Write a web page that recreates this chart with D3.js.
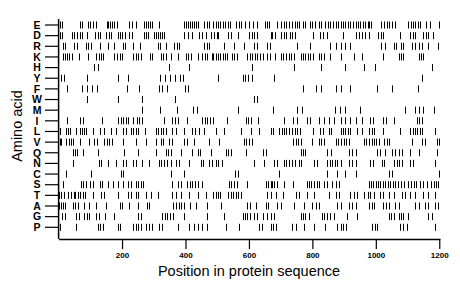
<!DOCTYPE html>
<html lang="en">
<head>
<meta charset="UTF-8">
<title>Amino acid positions</title>
<script src="https://d3js.org/d3.v7.min.js"></script>
<style>
    body { margin: 0; padding: 0; background: #fff; }
    svg { display: block; }
    text { font-family: "Liberation Sans", Arial, sans-serif; fill: #000; }
</style>
</head>
<body>
<svg id="chart" width="460" height="299"></svg>
<script>
// residues, top to bottom
const acids = ["E","D","R","K","H","Y","F","W","M","I","L","V","Q","N","C","S","T","A","G","P"];
const seqLength = 1202;
const xTicks = [200, 400, 600, 800, 1000, 1200];

// positions of each residue in the sequence
const posE = [4,12,67,75,93,100,109,118,152,157,162,168,176,183,222,230,243,270,276,282,288,295,317,396,402,408,414,421,427,433,440,458,467,474,488,496,503,510,518,526,534,541,560,568,576,587,600,612,627,652,657,662,689,700,709,718,726,736,744,750,757,771,778,792,799,807,820,828,841,849,857,865,873,880,889,897,904,912,920,928,936,943,951,960,967,975,978,986,1017,1026,1034,1043,1052,1060,1102,1110,1118,1125,1133,1140,1159,1171,1198];
const posD = [4,12,42,50,58,66,74,89,116,124,131,150,158,165,186,193,201,210,222,232,270,276,282,301,307,314,320,326,333,396,408,419,443,453,464,480,490,498,504,535,543,567,601,609,616,627,669,674,682,700,711,718,729,736,746,803,825,834,847,897,936,946,957,966,978,1007,1015,1023,1076,1108,1116,1125,1150,1157,1166,1181];
const posR = [13,21,50,57,87,94,101,129,155,176,202,210,236,257,312,320,338,364,372,380,458,467,474,522,553,585,616,625,658,666,750,794,857,873,889,904,920,1017,1030,1056,1063,1080,1087,1114,1124,1135,1145,1166,1196];
const posK = [15,21,28,34,42,63,92,118,126,134,141,176,183,192,200,234,243,251,259,288,293,322,330,338,354,375,401,408,417,438,453,461,469,482,488,496,503,510,517,525,532,546,553,561,595,603,611,619,627,634,643,658,666,682,700,708,716,727,734,742,763,771,778,786,794,802,820,828,836,857,889,931,957,1024,1072,1079,1086,1135,1142,1149];
const posH = [113,123,348,411,611,742,826,904,962,998,1177];
const posY = [8,18,90,188,220,320,336,352,367,383,393,503,580,588,598,609,679,1147];
const posF = [26,73,89,104,120,215,254,317,327,341,399,409,772,810,826,873,889,919,1003,1050,1134];
const posW = [89,188,262,366,616,625];
const posM = [262,320,373,425,436,567,677,751,767,872,888,904,951,1093,1124,1135,1150,1182];
const posI = [26,68,78,136,188,196,204,213,220,236,246,254,264,333,359,366,375,406,453,461,469,477,488,532,590,598,606,630,711,739,750,783,794,820,836,852,868,889,904,920,936,957,982,990,1024,1032,1056,1129,1137,1145];
const posL = [5,24,30,36,55,66,73,80,87,108,129,144,165,181,202,212,228,236,243,251,272,306,314,322,329,338,359,369,396,422,429,443,458,496,522,574,606,632,669,676,695,703,711,718,727,736,744,752,760,802,825,833,852,859,889,896,904,912,920,941,957,980,988,995,1024,1077,1108,1116,1124,1131,1140,1147,1187];
const posV = [3,9,24,32,38,45,66,97,113,120,144,152,160,168,202,243,275,306,322,330,348,356,396,404,427,474,506,585,592,601,609,739,747,754,763,799,820,828,836,873,880,889,899,907,915,962,970,980,988,995,1002,1010,1027,1035,1042,1114,1145,1156,1192,1199];
const posQ = [45,51,57,76,123,207,249,306,338,345,354,385,422,438,446,480,527,535,543,590,643,653,763,771,778,847,859,915,925,936,1003,1014,1030,1051,1061,1072,1082,1108,1135,1192];
const posN = [45,126,134,155,181,202,212,234,243,264,285,317,324,333,343,354,369,380,411,448,456,474,485,496,504,514,616,648,679,687,711,718,727,736,744,757,765,805,815,847,855,862,870,878,889,915,925,936,982,990,1019,1027,1056,1066,1074,1082,1108,1116,1187];
const posC = [24,102,197,204,354,396,556,567,695,847,878,904,936,1040,1051,1198];
const posS = [13,71,78,87,99,108,129,137,155,171,186,202,218,228,243,251,259,267,359,375,387,406,414,422,429,438,453,538,545,552,561,595,653,660,668,674,680,690,711,739,782,789,796,804,813,820,836,847,862,873,883,978,985,992,1000,1007,1014,1022,1030,1038,1046,1054,1062,1070,1080,1090,1100,1110,1120,1128,1138,1148,1160,1175,1182,1190,1197];
const posT = [2,9,18,29,39,47,53,60,68,76,84,108,134,144,186,218,228,243,251,275,291,314,359,369,385,411,438,464,488,496,503,510,535,543,550,559,567,574,658,669,685,706,747,757,784,805,852,873,883,920,931,941,962,975,982,993,1014,1024,1040,1056,1082,1093,1108,1124,1150,1166,1187];
const posA = [2,7,13,19,45,53,60,81,97,118,150,192,200,223,249,278,286,362,370,379,387,396,414,432,469,511,595,603,622,653,661,690,700,742,773,799,810,820,878,889,915,925,936,980,988,995,1024,1032,1040,1061,1072,1124,1135,1156,1164,1187,1197];
const posG = [11,19,55,63,81,89,97,118,126,147,176,249,259,327,335,343,351,362,396,467,522,580,588,595,603,616,624,643,658,669,679,763,771,778,789,831,838,847,855,868,910,941,1040,1048,1057,1072,1080,1087,1103,1166,1177];
const posP = [5,55,123,131,139,186,193,234,243,251,259,275,285,296,317,327,375,411,427,438,453,469,527,569,632,640,669,676,685,736,747,773,805,841,878,889,897,905,988,996,1003,1077,1087,1098,1187];

const positions = {
    E: posE, D: posD, R: posR, K: posK, H: posH, Y: posY, F: posF, W: posW, M: posM, I: posI,
    L: posL, V: posV, Q: posQ, N: posN, C: posC, S: posS, T: posT, A: posA, G: posG, P: posP
};

const svg = d3.select("#chart");

const plotLeft = 58.6, plotRight = 439.9, rowTop = 25, rowBottom = 227.3, axisY = 239;

const x = d3.scaleLinear().domain([0, seqLength]).range([plotLeft, plotRight]);
const y = d3.scalePoint().domain(acids).range([rowTop, rowBottom]);

// flatten for drawing
const marks = [];
acids.forEach(a => positions[a].forEach(p => marks.push({ acid: a, pos: p })));

svg.append("g")
    .selectAll("line")
    .data(marks)
    .join("line")
    .attr("x1", d => Math.round(x(d.pos)) + 0.5)
    .attr("x2", d => Math.round(x(d.pos)) + 0.5)
    .attr("y1", d => y(d.acid) - 3.5)
    .attr("y2", d => y(d.acid) + 3.5)
    .attr("stroke", "#000")
    .attr("stroke-width", 1);

// left axis with residue letters
const yAxis = svg.append("g");
yAxis.append("line")
    .attr("x1", plotLeft).attr("x2", plotLeft)
    .attr("y1", 19).attr("y2", axisY)
    .attr("stroke", "#000").attr("stroke-width", 1.5);
yAxis.selectAll(".ytick")
    .data(acids)
    .join("line")
    .attr("class", "ytick")
    .attr("x1", 45).attr("x2", plotLeft)
    .attr("y1", d => y(d)).attr("y2", d => y(d))
    .attr("stroke", "#000").attr("stroke-width", 1.2);
yAxis.selectAll(".ylab")
    .data(acids)
    .join("text")
    .attr("class", "ylab")
    .attr("x", 37)
    .attr("y", d => y(d))
    .attr("dy", "0.36em")
    .attr("text-anchor", "middle")
    .attr("font-size", 10.5)
    .attr("font-weight", "bold")
    .text(d => d);

// bottom axis
const xAxis = svg.append("g")
    .attr("transform", `translate(0,${axisY})`)
    .call(d3.axisBottom(x).tickValues(xTicks).tickFormat(d3.format("d"))
        .tickSize(10).tickPadding(3).tickSizeOuter(0));
xAxis.select(".domain").attr("stroke-width", 1.5);
xAxis.selectAll(".tick line").attr("stroke-width", 1.2);
xAxis.selectAll(".tick text")
    .attr("font-size", 8)
    .attr("font-weight", "bold")
    .attr("font-family", "\"DejaVu Sans\", sans-serif");

svg.append("text")
    .attr("x", 249)
    .attr("y", 276)
    .attr("text-anchor", "middle")
    .attr("font-size", 14.5)
    .text("Position in protein sequence");

svg.append("text")
    .attr("transform", "translate(22,126) rotate(-90)")
    .attr("text-anchor", "middle")
    .attr("font-size", 14.5)
    .text("Amino acid");
</script>
</body>
</html>
